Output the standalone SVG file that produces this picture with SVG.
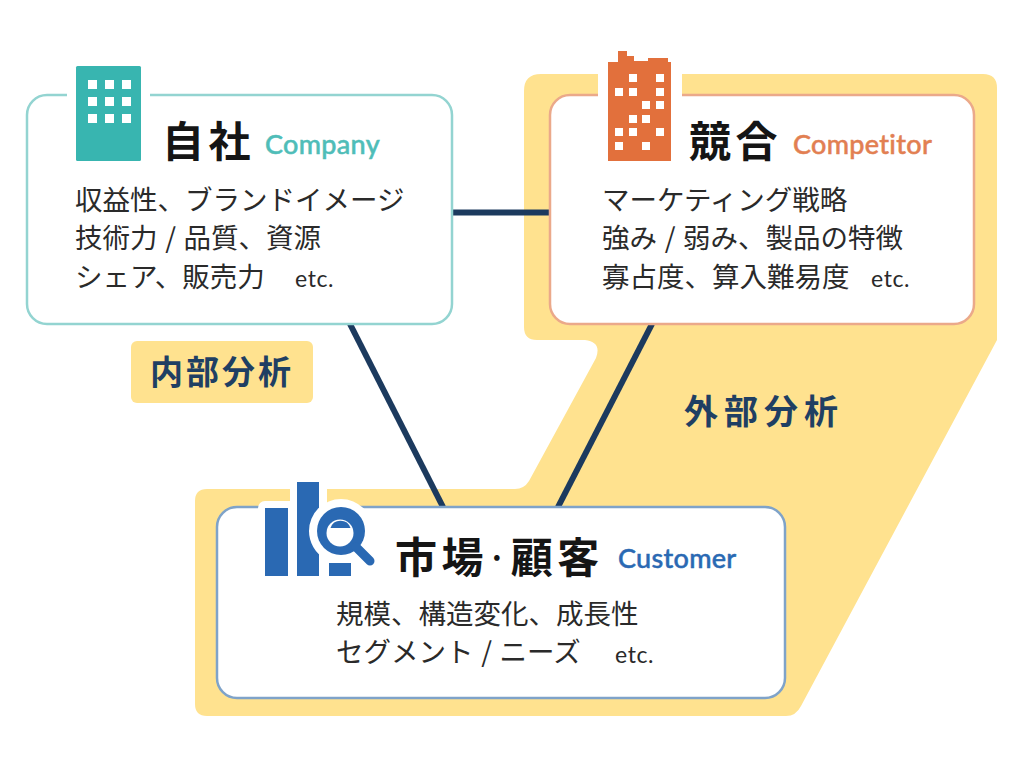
<svg xmlns="http://www.w3.org/2000/svg" width="1024" height="768" viewBox="0 0 1024 768">
<style>
.jp{font-family:"Noto Sans CJK JP","Noto Sans",sans-serif;font-size:27.5px;fill:#2a2a2a;word-spacing:1.5px}
.ttl{font-family:"Noto Sans CJK JP",sans-serif;font-size:42px;font-weight:700;fill:#151515;letter-spacing:4.5px}
.en{font-family:"Lato","Noto Sans",sans-serif;font-size:27px;font-weight:500;letter-spacing:.3px;stroke-width:.5px}
.etc{font-family:"Lato","Noto Sans",sans-serif;font-size:23px;fill:#2a2a2a;letter-spacing:.6px}
.lab{font-family:"Noto Sans CJK JP",sans-serif;font-weight:700;fill:#1f3f63}
.box{fill:#fff;stroke-width:2.5}
.wh{fill:#fff}
.blue{fill:#2a69b3}
.con{stroke:#1c3a5e;stroke-width:6;fill:none}
</style>
<rect width="1024" height="768" fill="#fff"/>
<path id="external-area" fill="#ffe28f" d="M541 74H983Q997 74 997 88V340L801 706Q796 716 786 716H207Q195 716 195 704V501Q195 489 207 489H515Q524 489 529 481L596 358Q602 342 585 340H537Q524 340 524 327V91Q524 74 541 74Z"/>
<g id="connectors">
<line class="con" x1="452" y1="212.500" x2="550" y2="212.500"/>
<line class="con" x1="350" y1="324" x2="443" y2="507"/>
<line class="con" x1="652" y1="324" x2="558" y2="507"/>
</g>
<g id="company">
<rect class="box" x="27" y="95" width="425" height="229" rx="20" stroke="#93d4d1"/>
<rect class="wh" x="67" y="85" width="83" height="20"/>
<rect x="76" y="66" width="65" height="95" rx="1.500" fill="#38b5b0"/>
<g class="wh"><rect x="88" y="80" width="9" height="9"/><rect x="105" y="80" width="9" height="9"/><rect x="122" y="80" width="9" height="9"/><rect x="88" y="97" width="9" height="9"/><rect x="105" y="97" width="9" height="9"/><rect x="122" y="97" width="9" height="9"/><rect x="88" y="114" width="9" height="9"/><rect x="105" y="114" width="9" height="9"/><rect x="122" y="114" width="9" height="9"/></g>
<text class="ttl" x="162" y="157">自社</text>
<text class="en" x="265" y="154" fill="#4fbdb8" stroke="#4fbdb8">Company</text>
<text class="jp" x="75" y="210">収益性、ブランドイメージ</text>
<text class="jp" x="75" y="248">技術力 / 品質、資源</text>
<text class="jp" x="75" y="287">シェア、販売力</text>
<text class="etc" x="295" y="287">etc.</text>
</g>
<g id="competitor">
<rect class="box" x="550" y="95" width="424" height="229" rx="20" stroke="#eba98a"/>
<rect class="wh" x="598" y="74" width="84" height="34"/>
<path fill="#e2703c" d="M608 161V62H618V51H627V56H634V61H648V58H668V62H671V161Z"/>
<g class="wh"><rect x="629" y="74" width="8" height="8"/><rect x="656" y="74" width="8" height="8"/><rect x="615" y="88" width="8" height="8"/><rect x="629" y="88" width="8" height="8"/><rect x="656" y="88" width="8" height="8"/><rect x="642" y="101" width="8" height="8"/><rect x="656" y="101" width="8" height="8"/><rect x="629" y="115" width="8" height="8"/><rect x="642" y="115" width="8" height="8"/><rect x="615" y="128" width="8" height="8"/><rect x="629" y="128" width="8" height="8"/><rect x="656" y="128" width="8" height="8"/><rect x="615" y="142" width="8" height="8"/><rect x="642" y="142" width="8" height="8"/></g>
<text class="ttl" x="689" y="157">競合</text>
<text class="en" x="793" y="154" fill="#e27f52" stroke="#e27f52">Competitor</text>
<text class="jp" x="602" y="210">マーケティング戦略</text>
<text class="jp" x="602" y="248">強み / 弱み、製品の特徴</text>
<text class="jp" x="602" y="287">寡占度、算入難易度</text>
<text class="etc" x="871" y="287">etc.</text>
</g>
<g id="customer">
<rect class="box" x="217" y="507" width="568" height="191" rx="20" stroke="#7fa3c9"/>
<rect class="wh" x="258" y="501" width="40" height="78" rx="7"/>
<rect class="wh" x="290" y="474" width="37" height="105"/>
<rect class="wh" x="320" y="540" width="38" height="39"/>
<rect x="265" y="508" width="23" height="68" class="blue"/>
<rect x="297" y="482" width="22" height="94" class="blue"/>
<rect x="329" y="563" width="22" height="13" class="blue"/>
<path class="wh" d="M309 531A32 32 0 0 1 373 531A32 32 0 0 1 355 559.800L351 563H329L325 558.800A32 32 0 0 1 309 531Z"/>
<circle cx="341" cy="531" r="24" class="blue"/>
<circle cx="340" cy="533" r="13.500" class="wh"/>
<path d="M330.500 528A10.500 10.500 0 0 1 350.500 528Z" class="blue"/>
<line x1="356" y1="547" x2="370" y2="561" stroke="#2a69b3" stroke-width="9" stroke-linecap="round"/>
<text class="ttl" x="395" y="573">市場<tspan dx="0" dy="-4" style="letter-spacing:0;font-size:30px">·</tspan><tspan dx="5" dy="4">顧客</tspan></text>
<text class="en" x="618" y="568" fill="#2a69b3" stroke="#2a69b3">Customer</text>
<text class="jp" x="336" y="624">規模、構造変化、成長性</text>
<text class="jp" x="336" y="662">セグメント / ニーズ</text>
<text class="etc" x="615" y="663">etc.</text>
</g>
<g id="internal-label">
<rect x="131" y="341" width="182" height="62" rx="6" fill="#ffe28f"/>
<text class="lab" x="150" y="384" style="font-size:33px;letter-spacing:3px">内部分析</text>
</g>
<g id="external-label">
<text class="lab" x="684" y="424" style="font-size:34px;letter-spacing:6px">外部分析</text>
</g>
</svg>
